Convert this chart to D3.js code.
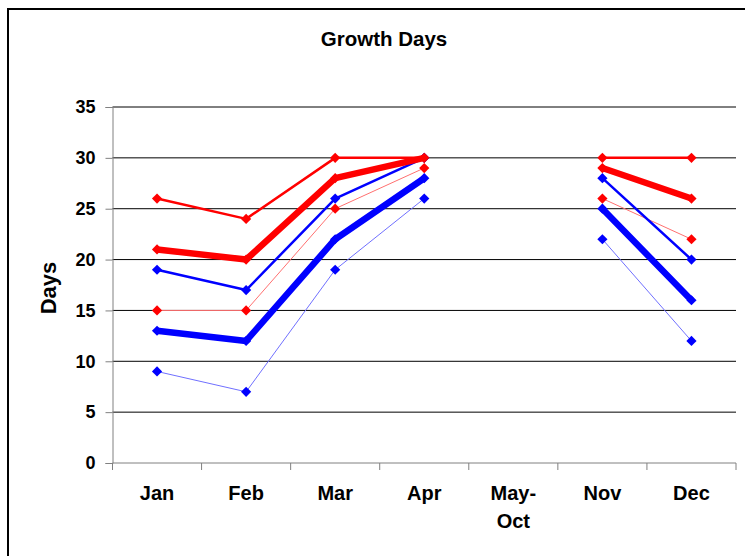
<!DOCTYPE html>
<html>
<head>
<meta charset="utf-8">
<script src="https://cdn.jsdelivr.net/npm/d3@7"></script>
<style>
  html, body { margin: 0; padding: 0; background: #fff; }
  svg { display: block; font-family: "Liberation Sans", Arial, sans-serif; }
</style>
</head>
<body>
<svg id="chart" width="745" height="556"></svg>
<script>
// Month groups on the x axis (the summer months are merged into one slot with no data)
const categories = ["Jan", "Feb", "Mar", "Apr", "May-Oct", "Nov", "Dec"];
const yTicks = [0, 5, 10, 15, 20, 25, 30, 35];

// Growth days per month for each series (null = no value for that period)
const redUpper  = [26, 24, 30, 30, null, 30, 30];
const redMid    = [21, 20, 28, 30, null, 29, 26];
const redLower  = [15, 15, 25, 29, null, 26, 22];
const blueUpper = [19, 17, 26, 30, null, 28, 20];
const blueMid   = [13, 12, 22, 28, null, 25, 16];
const blueLower = [ 9,  7, 19, 26, null, 22, 12];

const series = [
  { values: redLower,  color: "#ff7070", marker: "#ff0000", width: 1 },
  { values: blueLower, color: "#7070ff", marker: "#0000ff", width: 1 },
  { values: redUpper,  color: "#ff0000", marker: "#ff0000", width: 2.5 },
  { values: blueUpper, color: "#0000ff", marker: "#0000ff", width: 2.5 },
  { values: redMid,    color: "#ff0000", marker: "#ff0000", width: 6.5 },
  { values: blueMid,   color: "#0000ff", marker: "#0000ff", width: 6.5 }
];

const svg = d3.select("#chart");

// Outer frame
svg.append("rect")
  .attr("x", 8).attr("y", 9)
  .attr("width", 760).attr("height", 570)
  .attr("fill", "none").attr("stroke", "#000").attr("stroke-width", 2);

const plot = { left: 112.5, right: 736, top: 107, bottom: 463 };

const x = d3.scaleBand().domain(categories).range([plot.left, plot.right]);
const y = d3.scaleLinear().domain([0, 35]).range([plot.bottom, plot.top]);

// Title
svg.append("text")
  .attr("x", 384).attr("y", 46)
  .attr("text-anchor", "middle")
  .attr("font-size", 20.5).attr("font-weight", "bold")
  .text("Growth Days");

// Horizontal gridlines
svg.append("g")
  .selectAll("line")
  .data(yTicks.filter(d => d > 0))
  .join("line")
  .attr("x1", plot.left).attr("x2", plot.right)
  .attr("y1", d => y(d)).attr("y2", d => y(d))
  .attr("stroke", "#000").attr("stroke-width", 1);

// Y axis
const yAxis = svg.append("g")
  .attr("transform", `translate(${plot.left},0)`)
  .call(d3.axisLeft(y).tickValues(yTicks).tickSize(7).tickPadding(10));
yAxis.select(".domain").attr("stroke", "#808080");
yAxis.selectAll(".tick line").attr("stroke", "#808080");
yAxis.selectAll(".tick text")
  .attr("font-size", 18).attr("font-weight", "bold").attr("fill", "#000")
  .attr("font-family", "Liberation Sans, Arial, sans-serif");

// X axis with ticks on the category boundaries
const xAxisG = svg.append("g").attr("transform", `translate(0,${plot.bottom})`);
xAxisG.append("line")
  .attr("x1", plot.left).attr("x2", plot.right)
  .attr("y1", 0).attr("y2", 0)
  .attr("stroke", "#808080");
const boundaries = categories.map(c => x(c) + x.bandwidth()).concat([x(categories[0])]);
xAxisG.selectAll("line.tick")
  .data(boundaries)
  .join("line")
  .attr("class", "tick")
  .attr("x1", d => d).attr("x2", d => d)
  .attr("y1", 0).attr("y2", 7)
  .attr("stroke", "#808080");

const labels = xAxisG.selectAll("text.cat")
  .data(categories)
  .join("text")
  .attr("class", "cat")
  .attr("text-anchor", "middle")
  .attr("font-size", 20).attr("font-weight", "bold")
  .attr("x", d => x(d) + x.bandwidth() / 2)
  .attr("y", 37);
labels.each(function (d) {
  const parts = d.includes("-") ? [d.split("-")[0] + "-", d.split("-")[1]] : [d];
  d3.select(this).selectAll("tspan")
    .data(parts)
    .join("tspan")
    .attr("x", x(d) + x.bandwidth() / 2)
    .attr("dy", (p, i) => i === 0 ? 0 : 28)
    .text(p => p);
});

// Y axis title
svg.append("text")
  .attr("transform", "translate(56,288) rotate(-90)")
  .attr("text-anchor", "middle")
  .attr("font-size", 22).attr("font-weight", "bold")
  .text("Days");

// Series lines and diamond markers
const line = d3.line()
  .defined(d => d.v !== null)
  .x(d => x(d.c) + x.bandwidth() / 2)
  .y(d => y(d.v));

const diamond = d3.symbol().type(d3.symbolSquare).size(52);

series.forEach(s => {
  const pts = categories.map((c, i) => ({ c, v: s.values[i] }));
  svg.append("path")
    .datum(pts)
    .attr("d", line)
    .attr("fill", "none")
    .attr("stroke", s.color)
    .attr("stroke-width", s.width)
    .attr("stroke-linejoin", "round");
  svg.append("g")
    .selectAll("path")
    .data(pts.filter(p => p.v !== null))
    .join("path")
    .attr("d", diamond)
    .attr("transform", p => `translate(${x(p.c) + x.bandwidth() / 2},${y(p.v)}) rotate(45)`)
    .attr("fill", s.marker);
});
</script>
</body>
</html>
